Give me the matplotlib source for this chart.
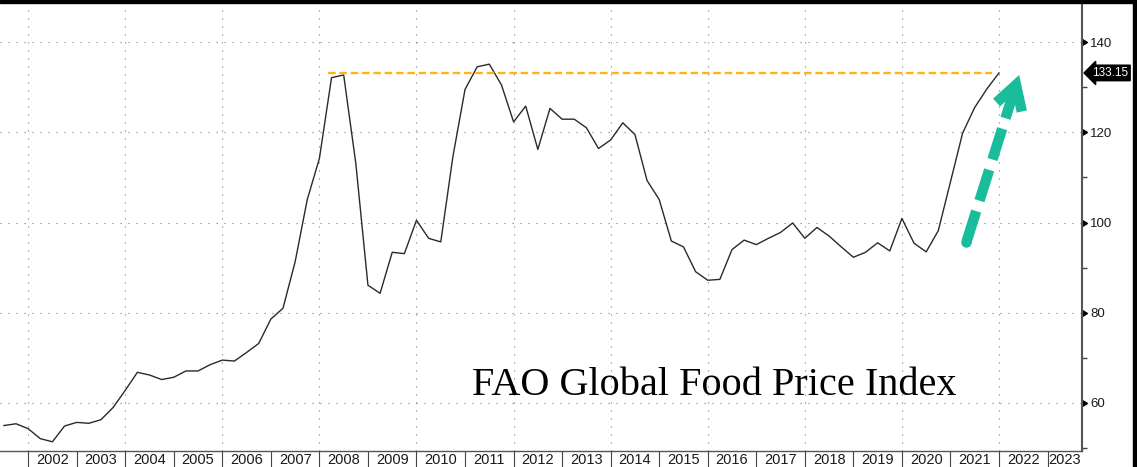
import matplotlib
matplotlib.use("Agg")
import matplotlib.pyplot as plt
import matplotlib.transforms as mtransforms
from matplotlib.patches import Rectangle
import numpy as np

# quarterly FAO food price index, first point mid 2001
start_year = 2001.5
index_values = [
    55.0, 55.4, 54.3, 52.1, 51.4, 54.9, 55.7, 55.5, 56.3, 59.0,
    62.8, 66.8, 66.2, 65.2, 65.7, 67.1, 67.1, 68.5, 69.5, 69.3,
    71.2, 73.2, 78.6, 81.0, 91.3, 105.1, 114.2, 132.1, 132.7, 113.1,
    86.1, 84.3, 93.4, 93.1, 100.5, 96.5, 95.7, 114.6, 129.5, 134.5,
    135.1, 130.5, 122.3, 125.8, 116.2, 125.3, 122.9, 122.9, 121.0, 116.4,
    118.3, 122.1, 119.5, 109.3, 105.1, 95.9, 94.6, 89.1, 87.2, 87.4,
    94.0, 96.1, 95.1, 96.5, 97.8, 99.9, 96.5, 98.9, 97.0, 94.6,
    92.3, 93.4, 95.5, 93.7, 100.9, 95.4, 93.5, 98.2, 109.0, 119.8,
    125.5, 129.6, 133.15,
]
last_value = 133.15
peak_line_start = 2008.18
peak_line_end = 2021.86

years = list(range(2002, 2024))
y_major = [60, 80, 100, 120, 140]
y_minor = [50, 70, 90, 110, 130]
title = "FAO Global Food Price Index"

# arrow (data coords): tail, tip, two wings
arrow_tail = (2021.33, 95.7)
arrow_tip = (2022.35, 130.5)
arrow_wing_l = (2021.95, 126.6)
arrow_wing_r = (2022.47, 124.6)

x_min, x_max = 2001.42, 2023.71
y_min, y_max = 49.36, 148.65

W, H = 1137, 467
fig = plt.figure(figsize=(W / 100, H / 100), dpi=100)
ax = fig.add_axes([0, 1 - 451 / H, 1082 / W, 448 / H])

t = start_year + 0.25 * np.arange(len(index_values))
ax.plot(t, index_values, color="#2a2a2a", lw=1.0, zorder=3)

ax.hlines(last_value, peak_line_start, peak_line_end, color="#FDB515",
          lw=1.7, linestyles=(0, (3.2, 1.6)), zorder=4)

teal = "#19BD9C"
ax.plot([arrow_tail[0], arrow_tip[0]], [arrow_tail[1], arrow_tip[1]],
        color=teal, lw=7.5, dashes=(3.1, 1.05), dash_capstyle="butt",
        zorder=5)
ax.plot([arrow_tail[0]], [arrow_tail[1]], marker="o", ms=7.5, color=teal,
        mec="none", zorder=5)
ax.plot([arrow_wing_l[0], arrow_tip[0], arrow_wing_r[0]],
        [arrow_wing_l[1], arrow_tip[1], arrow_wing_r[1]],
        color=teal, lw=7.5, solid_capstyle="butt", solid_joinstyle="miter",
        zorder=5)

ax.set_xlim(x_min, x_max)
ax.set_ylim(y_min, y_max)

# grid
ax.set_yticks(y_major)
ax.set_yticks(y_minor, minor=True)
ax.grid(axis="y", which="major", color="#7a7a7a", lw=0.8,
        linestyle=(0, (1, 6.2)))
for yr in years:
    if yr % 2 == 0:
        ax.axvline(yr, color="#7a7a7a", lw=0.8, linestyle=(0, (1, 6.2)),
                   zorder=1)

# x axis: year separators and centred labels
ax.set_xticks(years)
ax.set_xticklabels([])
mids = [(y + min(y + 1, x_max)) / 2 for y in years]
ax.set_xticks(mids, minor=True)
ax.set_xticklabels([str(y) for y in years], minor=True,
                   family="Liberation Sans")
ax.tick_params(axis="x", which="major", length=11.5, width=0.8,
               color="#444444", direction="out")
ax.tick_params(axis="x", which="minor", length=0, pad=1.5, labelsize=10.5,
               labelcolor="#1a1a1a")

# y axis on the right
ax.yaxis.tick_right()
ax.set_yticklabels([str(v) for v in y_major], family="Liberation Sans")
ax.tick_params(axis="y", which="major", length=0, pad=6, labelsize=9.5,
               labelcolor="#1a1a1a")
ax.tick_params(axis="y", which="minor", length=3.5, width=1,
               color="#444444", direction="out")
trans = mtransforms.blended_transform_factory(ax.transAxes, ax.transData)
ax.plot([1.0] * len(y_major), y_major, linestyle="none", marker=9, ms=5,
        color="black", transform=trans, clip_on=False)

for s in ["top", "left"]:
    ax.spines[s].set_visible(False)
ax.spines["right"].set_color("#555555")
ax.spines["right"].set_linewidth(1.5)
ax.spines["bottom"].set_color("#555555")
ax.spines["bottom"].set_linewidth(1.0)

# last value tag
ax.text(1.0095, last_value, f"{last_value:.2f}", transform=trans,
        color="white", fontsize=8.5, family="Liberation Sans",
        va="center", ha="left",
        bbox=dict(boxstyle="larrow,pad=0.15", fc="black", ec="black"),
        clip_on=False)

ax.text(0.436, 0.125, title, transform=ax.transAxes, fontsize=29,
        family="Liberation Serif", color="black", ha="left",
        va="baseline", zorder=6)

# black frame strips of the screenshot
fig.add_artist(Rectangle((0, 1 - 3 / H), 1, 3 / H, transform=fig.transFigure,
                         color="black"))
fig.add_artist(Rectangle((1133 / W, 0), 4 / W, 1, transform=fig.transFigure,
                         color="black"))

fig.savefig("out.png", dpi=100)
